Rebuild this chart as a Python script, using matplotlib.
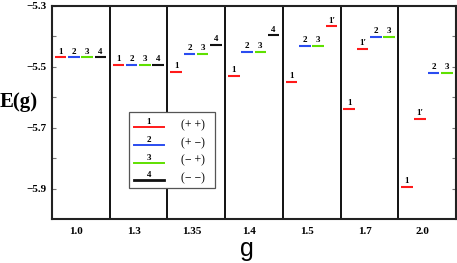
import matplotlib
matplotlib.use("Agg")
import matplotlib.pyplot as plt
from matplotlib.patches import Rectangle

g_labels = ["1.0", "1.3", "1.35", "1.4", "1.5", "1.7", "2.0"]

# levels per g: state label and energy, one list per g section
level_names = [
    ["1", "2", "3", "4"],
    ["1", "2", "3", "4"],
    ["1", "2", "3", "4"],
    ["1", "2", "3", "4"],
    ["1", "2", "3", "1'"],
    ["1", "1'", "2", "3"],
    ["1", "1'", "2", "3"],
]
level_energies = [
    [-5.469, -5.469, -5.469, -5.469],
    [-5.495, -5.495, -5.495, -5.495],
    [-5.518, -5.458, -5.458, -5.427],
    [-5.530, -5.450, -5.450, -5.397],
    [-5.549, -5.430, -5.430, -5.367],
    [-5.637, -5.441, -5.403, -5.403],
    [-5.894, -5.670, -5.520, -5.520],
]

legend_nums = ["1", "2", "3", "4"]
legend_signs = ["(+ +)", "(+ \u2212)", "(\u2212 +)", "(\u2212 \u2212)"]

colors = {"1": "#ff1a1a", "1'": "#ff1a1a", "2": "#2a4cf0",
          "3": "#5fe000", "4": "#111111"}
slots = [0.05, 0.28, 0.51, 0.74]
seg_w = 0.2

serif = "Liberation Serif"

fig = plt.figure(figsize=(4.57, 2.63), dpi=100)
ax = fig.add_axes([0.1138, 0.1673, 0.884, 0.81])

for i, (names, ens) in enumerate(zip(level_names, level_energies)):
    for j, (nm, e) in enumerate(zip(names, ens)):
        x0 = i + slots[j]
        ax.plot([x0, x0 + seg_w], [e, e], color=colors[nm], lw=1.5,
                solid_capstyle="butt")
        txt = nm.replace("'", "\u2032")
        ax.text(x0 + seg_w / 2, e + 0.006, txt, ha="center", va="bottom",
                fontsize=6.5, fontweight="bold", family=serif)

for i in range(1, len(g_labels)):
    ax.axvline(i, color="#111111", lw=1.4, zorder=1)

ax.set_xlim(0, len(g_labels))
ax.set_ylim(-6.0, -5.3)
ax.set_xticks([i + 0.42 for i in range(len(g_labels))])
ax.set_xticklabels(g_labels, fontsize=8, fontweight="bold", family=serif)
ax.tick_params(axis="x", length=0, pad=6)
ax.set_yticks([-5.9, -5.7, -5.5, -5.3])
ax.set_yticks([-5.8, -5.6, -5.4], minor=True)
ax.set_yticklabels(["\u22125.9", "\u22125.7", "\u22125.5", "\u22125.3"],
                   fontsize=8, fontweight="bold", family=serif)
ax.tick_params(axis="y", which="both", direction="in", right=True,
               length=3, width=0.8, color="#777777", pad=4)
for sp in ax.spines.values():
    sp.set_linewidth(1.5)
    sp.set_color("#222222")

ax.set_ylabel("E(g)", fontsize=15, fontweight="bold", family=serif,
              rotation=0, ha="center", va="center")
ax.yaxis.set_label_coords(-0.082, 0.55)
ax.set_xlabel("g", fontsize=18, family="Liberation Sans", va="baseline")
ax.xaxis.set_label_coords(0.483, -0.172)

# legend box drawn by hand in axes coordinates
bx0, by0, bw, bh = 0.19, 0.145, 0.213, 0.355
ax.add_patch(Rectangle((bx0, by0), bw, bh, transform=ax.transAxes,
                       facecolor="white", edgecolor="#555555", lw=0.9,
                       zorder=5))
for k, (num, sign) in enumerate(zip(legend_nums, legend_signs)):
    yy = by0 + bh - 0.07 - k * 0.083
    ax.plot([0.203, 0.277], [yy, yy], transform=ax.transAxes,
            color=colors[num], lw=1.4 if num != "4" else 2.0, zorder=6)
    ax.text(0.24, yy + 0.005, num, transform=ax.transAxes, ha="center",
            va="bottom", fontsize=6.5, fontweight="bold", family=serif,
            zorder=6)
    ax.text(0.32, yy + 0.01, sign, transform=ax.transAxes, ha="left",
            va="center", fontsize=8.5, family=serif, zorder=6)

fig.savefig("out.png", dpi=100)
